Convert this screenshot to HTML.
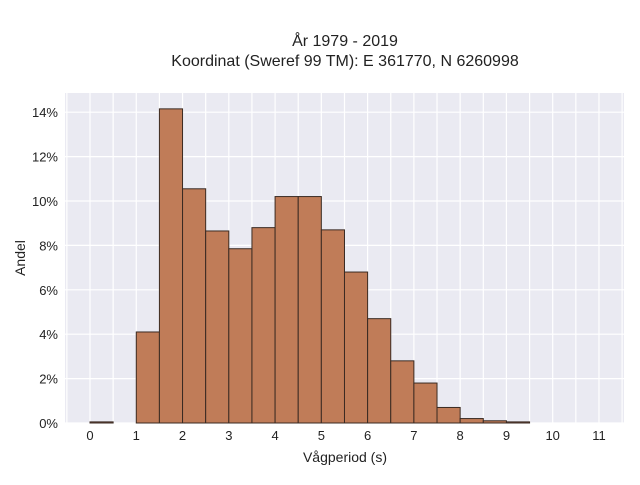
<!DOCTYPE html>
<html><head><meta charset="utf-8"><style>
body{margin:0;background:#fff;font-family:"Liberation Sans",sans-serif}
svg text{font-family:"Liberation Sans",sans-serif;fill:#222}
</style></head><body>
<svg id="chart" width="640" height="480" xmlns="http://www.w3.org/2000/svg">
<text x="345" y="46" font-size="16" text-anchor="middle">År 1979 - 2019</text>
<text x="345" y="66" font-size="16" text-anchor="middle">Koordinat (Sweref 99 TM): E 361770, N 6260998</text>
<rect x="65" y="93" width="559" height="330" fill="#eaeaf2"/>
<g id="grid"></g><g id="bars"></g><g id="axes"></g>
<text x="345" y="462" font-size="14" text-anchor="middle">Vågperiod (s)</text>
<text x="25" y="258" font-size="14" text-anchor="middle" transform="rotate(-90 25 258)">Andel</text>
</svg>
<script>
const binStarts=[0,0.5,1,1.5,2,2.5,3,3.5,4,4.5,5,5.5,6,6.5,7,7.5,8,8.5,9];
const binWidth=0.5;
const shares=[0.05,0,4.1,14.15,10.55,8.65,7.85,8.8,10.2,10.2,8.7,6.8,4.7,2.8,1.8,0.7,0.2,0.1,0.05];
const xTicks=[0,1,2,3,4,5,6,7,8,9,10,11];
const yTicks=[0,2,4,6,8,10,12,14];
const NS="http://www.w3.org/2000/svg";
const X=v=>90+v*46.27;
const Y=v=>423-v*22.2;
const grid=document.getElementById('grid'),bars=document.getElementById('bars'),axes=document.getElementById('axes');
function mk(tag,at,parent){const e=document.createElementNS(NS,tag);for(const k in at)e.setAttribute(k,at[k]);parent.appendChild(e);return e;}
for(let v=-0.5;v<=11.5;v+=0.5){const x=X(v);if(x<65||x>624)continue;
const l=mk('line',{x1:x,x2:x,y1:93,y2:423,stroke:'#fff','stroke-width':1.2},grid);

}
yTicks.forEach(t=>{const l=mk('line',{x1:65,x2:624,y1:Y(t),y2:Y(t),stroke:'#fff','stroke-width':1.2},grid);


const tx=mk('text',{x:58,y:Y(t)+5,'font-size':13,'text-anchor':'end'},axes);tx.textContent=t+'%';

});
xTicks.forEach(t=>{const tx=mk('text',{x:X(t),y:440,'font-size':13,'text-anchor':'middle'},axes);tx.textContent=t;

});
binStarts.forEach((s,i)=>{const v=shares[i];const y=Y(v);
const r=mk('rect',{x:X(s),y:y,width:X(s+binWidth)-X(s),height:423-y,fill:'#c07c58',stroke:'#3a2a22','stroke-width':1},bars);

});
</script>
</body></html>
